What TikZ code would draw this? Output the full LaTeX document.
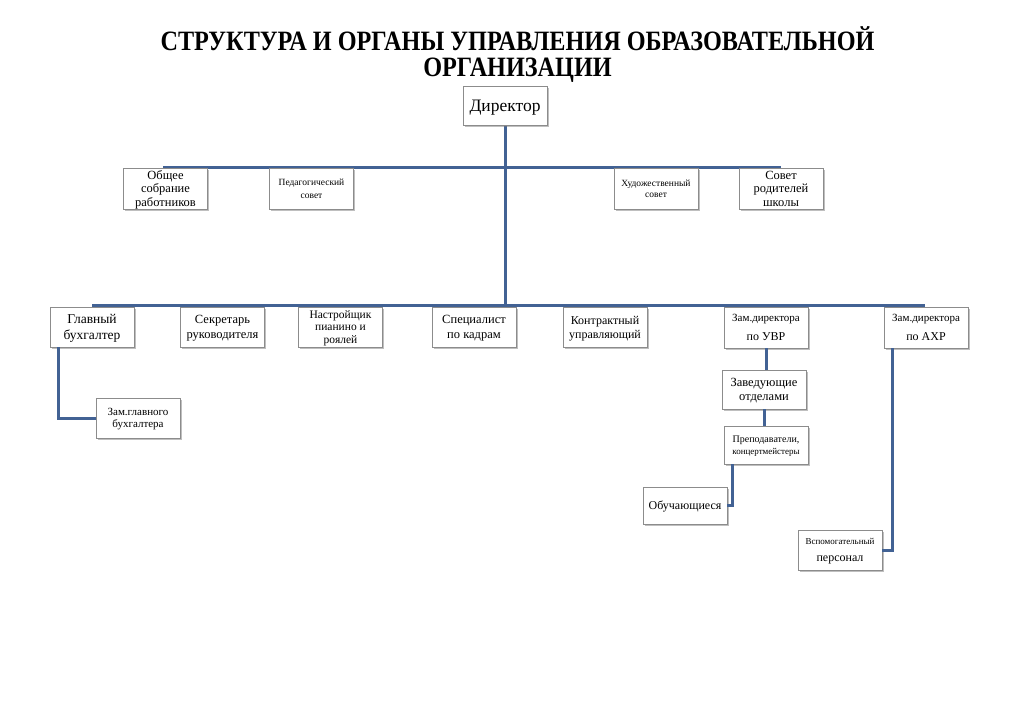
\documentclass[tikz,border=0pt]{standalone}
\usepackage{fontspec}
\setmainfont{Liberation Serif}
\newfontfamily\titlefont[FakeStretch=0.865]{Liberation Serif}
\usetikzlibrary{shadows}
\definecolor{linec}{RGB}{66,98,148}
\definecolor{boxc}{RGB}{140,140,140}
\tikzset{
  orgbox/.style={draw=boxc, line width=0.8pt, fill=white, align=center, inner sep=1pt,
    drop shadow={shadow xshift=1.6pt, shadow yshift=-1.6pt, opacity=0.45, fill=black!55},
    minimum width=84pt, minimum height=40pt, text depth=0pt},
  link/.style={draw=linec, line width=3pt},
  fs/.style={font={\pgfmathsetmacro\bsk{#1*1.15}\fontsize{#1}{\bsk}\selectfont}},
  fsb/.style 2 args={font={\fontsize{#1}{#2}\selectfont}}
}
\pgfdeclarelayer{bg}\pgfsetlayers{bg,main}
\begin{document}
\begin{tikzpicture}[x=1pt,y=-1pt]
\useasboundingbox (0,0) rectangle (1024,724);
\begin{pgfonlayer}{bg}
\fill[white] (0,0) rectangle (1024,724);
\end{pgfonlayer}
% title
\node[align=center, font=\titlefont\bfseries\fontsize{28}{26}\selectfont] (title) at (517.5,54.5)
  {СТРУКТУРА И ОРГАНЫ УПРАВЛЕНИЯ ОБРАЗОВАТЕЛЬНОЙ\\ОРГАНИЗАЦИИ};
% coordinates
\coordinate (ub1) at (163,167);
\coordinate (ub2) at (781,167);
\coordinate (lb1) at (92,305);
\coordinate (lb2) at (925,305);
\coordinate (tr) at (505,305);
% nodes
\node[orgbox, minimum height=39pt, fs=17.5] (dir) at (505,105.5) {Директор};
\node[orgbox, minimum height=41pt, fsb={12.5}{13.5}] (obs) at (165.5,188.5) {Общее\\собрание\\работников};
\node[orgbox, minimum height=41pt, fsb={9.5}{13}] (ped) at (311.5,188.5) {Педагогический\\совет};
\node[orgbox, minimum height=41pt, fsb={9.5}{11.5}] (hud) at (656,188.5) {Художественный\\совет};
\node[orgbox, minimum height=41pt, fsb={12.5}{13.5}] (sov) at (781,188.5) {Совет\\родителей\\школы};
\node[orgbox, fs=13.5] (gb) at (92,327) {Главный\\бухгалтер};
\node[orgbox, fs=12.5] (sek) at (222.5,327) {Секретарь\\руководителя};
\node[orgbox, fsb={11.5}{12.5}] (nas) at (340.5,327) {Настройщик\\пианино и\\роялей};
\node[orgbox, fs=12.5] (spec) at (474,327) {Специалист\\по кадрам};
\node[orgbox, fs=12] (kon) at (605,327) {Контрактный\\управляющий};
\node[orgbox, minimum height=41pt, fs=11] (uvr) at (766,327.5) {Зам.директора\\[7pt]{\fontsize{12}{12}\selectfont по УВР}};
\node[orgbox, minimum height=41pt, fs=11] (ahr) at (926,327.5) {Зам.директора\\[7pt]{\fontsize{12}{12}\selectfont по АХР}};
\node[orgbox, fs=11] (zgb) at (138,418) {Зам.главного\\бухгалтера};
\node[orgbox, minimum height=39pt, fs=12.5] (zav) at (764,389.5) {Заведующие\\отделами};
\node[orgbox, minimum height=38pt, fs=10] (pre) at (766,445) {Преподаватели,\\{\fontsize{9}{9}\selectfont концертмейстеры}};
\node[orgbox, minimum height=37pt, fs=12] (obu) at (685,505.5) {Обучающиеся};
\node[orgbox, fs=9] (vsp) at (840,550) {Вспомогательный\\[6pt]{\fontsize{12}{12}\selectfont персонал}};
% connectors
\begin{pgfonlayer}{bg}
\draw[link] (dir.south) -- (tr);
\draw[link] (ub1) -- (ub2);
\draw[link] (lb1) -- (lb2);
\end{pgfonlayer}
\draw[link] ([xshift=-34pt]gb.south) |- (zgb.west);
\draw[link] (uvr.south) -- (uvr.south |- zav.north);
\draw[link] (zav.south) -- (zav.south |- pre.north);
\draw[link] ([xshift=-34pt]pre.south) |- (obu.east);
\draw[link] ([xshift=-34pt]ahr.south) |- (vsp.east);
\end{tikzpicture}
\end{document}
